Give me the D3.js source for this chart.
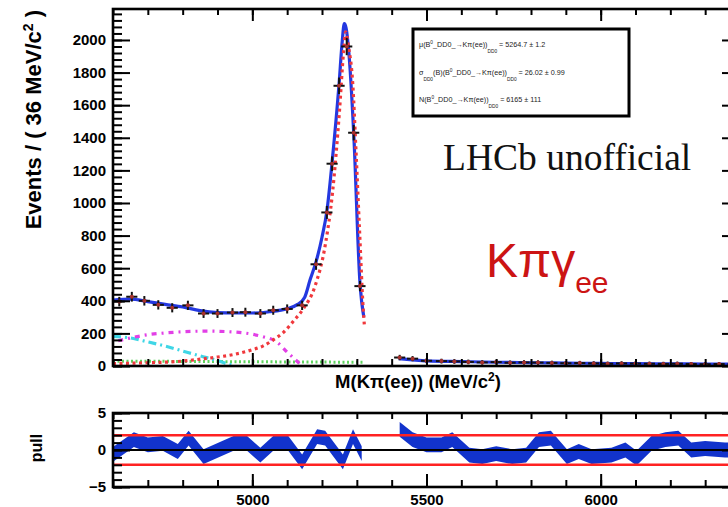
<!DOCTYPE html>
<html>
<head>
<meta charset="utf-8">
<script src="https://cdn.jsdelivr.net/npm/d3@7"></script>
<style>
  body { margin: 0; background: #fff; }
  svg { display: block; }
</style>
</head>
<body>
<script>
// data (mass in MeV/c2)
var dataMass = [4618, 4654, 4690, 4730, 4770, 4815, 4860, 4900, 4943, 4980, 5023, 5060, 5100, 5143,
                5183, 5214, 5229, 5249, 5271, 5291, 5309,
                5423, 5460, 5500, 5543, 5580, 5620, 5660, 5700, 5740, 5780, 5820, 5860, 5900, 5940,
                5980, 6020, 6060, 6100, 6140, 6180, 6220, 6260, 6300, 6340, 6380];
var dataEvents = [395, 425, 400, 375, 357, 372, 322, 322, 328, 330, 322, 342, 350, 372,
                  624, 942, 1241, 1719, 1960, 1431, 490,
                  52, 45, 32, 30, 28, 25, 22, 24, 20, 22, 21, 19, 17, 18,
                  16, 14, 16, 15, 14, 13, 14, 12, 11, 12, 11];

// total fit (null = gap)
var totalMass = [4600, 4650, 4700, 4750, 4800, 4850, 4900, 4950, 5000, 5050, 5100, 5130, 5150, 5166, 5183,
                 5200, 5214, 5229, 5249, 5258, 5264, 5269, 5276, 5291, 5309, 5320,
                 5370, 5420, 5460, 5500, 5600, 5700, 5800, 5900, 6000, 6100, 6200, 6300, 6400];
var totalFit = [405, 410, 395, 378, 362, 340, 328, 325, 325, 333, 352, 378, 420, 530, 640,
                790, 950, 1250, 1730, 1990, 2100, 2075, 1950, 1430, 510, 300,
                null, 45, 38, 32, 27, 23, 20, 18, 16, 14, 13, 12, 11];

var signalMass = [4600, 4700, 4800, 4850, 4900, 4950, 5000, 5030, 5060, 5090, 5120, 5146, 5180, 5210,
                  5230, 5250, 5262, 5268, 5276, 5288, 5298, 5308, 5318, 5322];
var signalFit = [15, 20, 30, 42, 55, 72, 100, 122, 160, 208, 280, 350, 490, 750,
                 1060, 1560, 1930, 2050, 1960, 1740, 1300, 820, 360, 240];

var partRecoMass = [4615, 4650, 4700, 4750, 4800, 4870, 4950, 5000, 5030, 5070, 5100, 5123, 5140];
var partRecoFit = [155, 172, 192, 203, 210, 214, 208, 195, 180, 148, 85, 40, 5];

var cyanMass = [4600, 4650, 4700, 4750, 4800, 4850, 4900, 4930, 4950];
var cyanFit = [182, 172, 148, 122, 92, 62, 33, 12, 3];

var combMass = [4600, 4800, 5000, 5200, 5320];
var combFit = [30, 28, 26, 24, 23];

var pullMass = [4600, 4660, 4700, 4743, 4786, 4817, 4860, 4946, 4980, 5023, 5060, 5100, 5143, 5186, 5209,
                5260, 5289, 5314, 5370,
                5423, 5460, 5500, 5543, 5574, 5623, 5660, 5700, 5746, 5786, 5823, 5857, 5903, 5937,
                5974, 6031, 6071, 6103, 6146, 6186, 6223, 6260, 6300, 6357, 6400];
var pullVals = [-0.6, 1.4, 0.7, 0.9, -0.2, 1.6, -0.9, 0.9, 1.1, -0.7, 0.9, 1.1, -1.6, 1.8, 1.6,
                -1.6, 1.8, -0.5, null,
                2.8, 1.4, 0.7, 0.7, 1.4, -0.7, -0.9, -0.5, -0.9, -0.7, 1.4, 1.6, -0.9, -0.2,
                -0.9, -0.7, 0, -1.1, 0.9, 1.4, 1.6, 0, 0.2, 0, 0];

var statLines = [
  [["\u03bc(B"], ["0", "sup"], ["_DD0_\u2192K\u03c0(ee))"], ["DD0", "sub"], ["  =  5264.7 \u00b1 1.2"]],
  [["\u03c3"], ["DD0", "sub"], ["(B)(B"], ["0", "sup"], ["_DD0_\u2192K\u03c0(ee))"], ["DD0", "sub"], ["  =  26.02 \u00b1 0.99"]],
  [["N(B"], ["0", "sup"], ["_DD0_\u2192K\u03c0(ee))"], ["DD0", "sub"], ["  =  6165 \u00b1 111"]]
];

var W = 728, H = 507;
var sans = "'Liberation Sans', Arial, sans-serif";

var svg = d3.select("body").append("svg")
  .attr("width", W).attr("height", H);

var x = d3.scaleLinear().domain([4600, 6400]).range([113, 740]);
var y = d3.scaleLinear().domain([0, 2190]).range([366, 9]);
var yp = d3.scaleLinear().domain([-5, 5]).range([487, 413]);

svg.append("clipPath").attr("id", "clipMain")
  .append("rect").attr("x", x(4600)).attr("y", y(2190)).attr("width", x(6400) - x(4600)).attr("height", y(0) - y(2190));
svg.append("clipPath").attr("id", "clipPull")
  .append("rect").attr("x", x(4600)).attr("y", yp(5)).attr("width", x(6400) - x(4600)).attr("height", yp(-5) - yp(5));

function zipped(ms, vs) {
  return ms.map(function(m, i) { return {m: m, v: vs[i]}; });
}

var line = d3.line()
  .defined(function(d) { return d.v != null; })
  .x(function(d) { return x(d.m); })
  .y(function(d) { return y(d.v); })
  .curve(d3.curveMonotoneX);

var main = svg.append("g").attr("clip-path", "url(#clipMain)");

// background components
main.append("path").datum(zipped(combMass, combFit))
  .attr("d", line).attr("fill", "none").attr("stroke", "#5fd35f")
  .attr("stroke-width", 3).attr("stroke-dasharray", "2,2.5");
main.append("path").datum(zipped(cyanMass, cyanFit))
  .attr("d", line).attr("fill", "none").attr("stroke", "#3fd6e6")
  .attr("stroke-width", 3.2).attr("stroke-dasharray", "8,4,2,4");
main.append("path").datum(zipped(partRecoMass, partRecoFit))
  .attr("d", line).attr("fill", "none").attr("stroke", "#e23fe6")
  .attr("stroke-width", 3.2).attr("stroke-dasharray", "5,5,2,5");

// total fit
main.append("path").datum(zipped(totalMass, totalFit))
  .attr("d", line).attr("fill", "none").attr("stroke", "#2438e0")
  .attr("stroke-width", 3.2);

// signal
main.append("path").datum(zipped(signalMass, signalFit))
  .attr("d", line).attr("fill", "none").attr("stroke", "#f0383c")
  .attr("stroke-width", 3.2).attr("stroke-dasharray", "3,3.5");

// data points
var pts = main.selectAll(".pt").data(zipped(dataMass, dataEvents)).enter()
  .append("g").attr("class", "pt");
pts.append("line")
  .attr("x1", function(d) { return x(d.m - 16); })
  .attr("x2", function(d) { return x(d.m + 16); })
  .attr("y1", function(d) { return y(d.v); })
  .attr("y2", function(d) { return y(d.v); })
  .attr("stroke", "#111").attr("stroke-width", 2);
pts.append("line")
  .attr("x1", function(d) { return x(d.m); })
  .attr("x2", function(d) { return x(d.m); })
  .attr("y1", function(d) { return y(d.v + Math.sqrt(d.v)) - 1.5; })
  .attr("y2", function(d) { return y(d.v - Math.sqrt(d.v)) + 1.5; })
  .attr("stroke", "#111").attr("stroke-width", 2);
pts.append("circle")
  .attr("cx", function(d) { return x(d.m); })
  .attr("cy", function(d) { return y(d.v); })
  .attr("r", 2).attr("fill", "#a8302c");

// pull panel
var pull = svg.append("g").attr("clip-path", "url(#clipPull)");
var band = d3.area()
  .defined(function(d) { return d.v != null; })
  .x(function(d) { return x(d.m); })
  .y0(function(d) { return yp(d.v - 1.0); })
  .y1(function(d) { return yp(d.v + 1.0); });
pull.append("path").datum(zipped(pullMass, pullVals))
  .attr("d", band).attr("fill", "#1233cc");

[-2, 2].forEach(function(v) {
  pull.append("line")
    .attr("x1", x(4600)).attr("x2", x(6400))
    .attr("y1", yp(v)).attr("y2", yp(v))
    .attr("stroke", "#ff2222").attr("stroke-width", 2.5);
});
pull.append("line")
  .attr("x1", x(4600)).attr("x2", x(6400))
  .attr("y1", yp(0)).attr("y2", yp(0))
  .attr("stroke", "#000").attr("stroke-width", 2);

// axes / ticks
function ticks(g, axis, values, len, fmt) {
  axis.tickValues(values).tickSize(-len).tickPadding(7);
  axis.tickFormat(fmt ? fmt : function() { return ""; });
  g.call(axis);
  g.select(".domain").remove();
  g.selectAll(".tick line").attr("stroke", "#000").attr("stroke-width", 2);
  g.attr("font-family", sans).attr("font-size", 15).attr("font-weight", "bold");
  g.selectAll(".tick text").attr("fill", "#000");
}

var xMinor = d3.range(4600, 6401, 100);
var xMajor = [5000, 5500, 6000];
var yMinor = d3.range(0, 2190, 40);
var yMajor = d3.range(0, 2001, 200);
var pMinor = d3.range(-5, 6, 1);
var pMajor = [-5, 0, 5];

function frameTicks(ys, yMin, yMaj, yFmt, xFmt, top, bottom) {
  var L = svg.append("g").attr("transform", "translate(" + x(4600) + ",0)");
  ticks(L, d3.axisLeft(ys), yMin, 9);
  var L2 = svg.append("g").attr("transform", "translate(" + x(4600) + ",0)");
  ticks(L2, d3.axisLeft(ys), yMaj, 17, yFmt);
  var R = svg.append("g").attr("transform", "translate(" + x(6400) + ",0)");
  ticks(R, d3.axisRight(ys), yMin, 9);
  var R2 = svg.append("g").attr("transform", "translate(" + x(6400) + ",0)");
  ticks(R2, d3.axisRight(ys), yMaj, 18);
  var T = svg.append("g").attr("transform", "translate(0," + top + ")");
  ticks(T, d3.axisTop(x), xMinor, 6);
  var T2 = svg.append("g").attr("transform", "translate(0," + top + ")");
  ticks(T2, d3.axisTop(x), xMajor, 12);
  var B = svg.append("g").attr("transform", "translate(0," + bottom + ")");
  ticks(B, d3.axisBottom(x), xMinor, 7);
  var B2 = svg.append("g").attr("transform", "translate(0," + bottom + ")");
  ticks(B2, d3.axisBottom(x), xMajor, 13, xFmt);
  svg.append("rect")
    .attr("x", x(4600)).attr("y", top)
    .attr("width", x(6400) - x(4600)).attr("height", bottom - top)
    .attr("fill", "none").attr("stroke", "#000").attr("stroke-width", 2.6);
}

frameTicks(y, yMinor, yMajor, d3.format("d"), null, y(2190), y(0));
frameTicks(yp, pMinor, pMajor,
  function(d) { return d < 0 ? "\u2212" + (-d) : String(d); },
  d3.format("d"), yp(5), yp(-5));

// axis titles
var yt = svg.append("text")
  .attr("transform", "translate(41,10) rotate(-90)")
  .attr("text-anchor", "end")
  .attr("font-family", sans).attr("font-weight", "bold").attr("font-size", 22);
yt.append("tspan").text("Events / ( 36 MeV/c");
yt.append("tspan").attr("dy", -8).attr("font-size", 14).text("2");
yt.append("tspan").attr("dy", 8).text(" )");

var xt = svg.append("text")
  .attr("x", 418).attr("y", 388)
  .attr("text-anchor", "middle")
  .attr("font-family", sans).attr("font-weight", "bold").attr("font-size", 18.5);
xt.append("tspan").text("M(K\u03c0(ee)) (MeV/c");
xt.append("tspan").attr("dy", -7).attr("font-size", 12).text("2");
xt.append("tspan").attr("dy", 7).text(")");

svg.append("text")
  .attr("transform", "translate(42,448) rotate(-90)")
  .attr("text-anchor", "middle")
  .attr("font-family", sans).attr("font-weight", "bold").attr("font-size", 16)
  .text("pull");

// stats box
svg.append("rect")
  .attr("x", 413).attr("y", 29).attr("width", 216).attr("height", 87)
  .attr("fill", "#fff").attr("stroke", "#000").attr("stroke-width", 3);
var statY = [47, 75, 102];
statLines.forEach(function(parts, i) {
  var t = svg.append("text")
    .attr("x", 419).attr("y", statY[i])
    .attr("font-family", sans).attr("font-size", 7.2).attr("fill", "#222");
  var shift = 0;
  parts.forEach(function(p) {
    var target = p[1] === "sup" ? -3 : (p[1] === "sub" ? 6 : 0);
    var sp = t.append("tspan").text(p[0]).attr("dy", target - shift);
    if (p[1]) sp.attr("font-size", 4.8);
    shift = target;
  });
});

// labels
svg.append("text")
  .attr("x", 443).attr("y", 170)
  .attr("font-family", "'Liberation Serif', 'Times New Roman', serif")
  .attr("font-size", 37.5).attr("fill", "#111")
  .text("LHCb unofficial");

var kp = svg.append("text")
  .attr("x", 486).attr("y", 277)
  .attr("font-family", sans).attr("font-size", 48).attr("fill", "#cc1414");
kp.append("tspan").text("K\u03c0\u03b3");
kp.append("tspan").attr("dy", 16).attr("font-size", 30).text("ee");
</script>
</body>
</html>
